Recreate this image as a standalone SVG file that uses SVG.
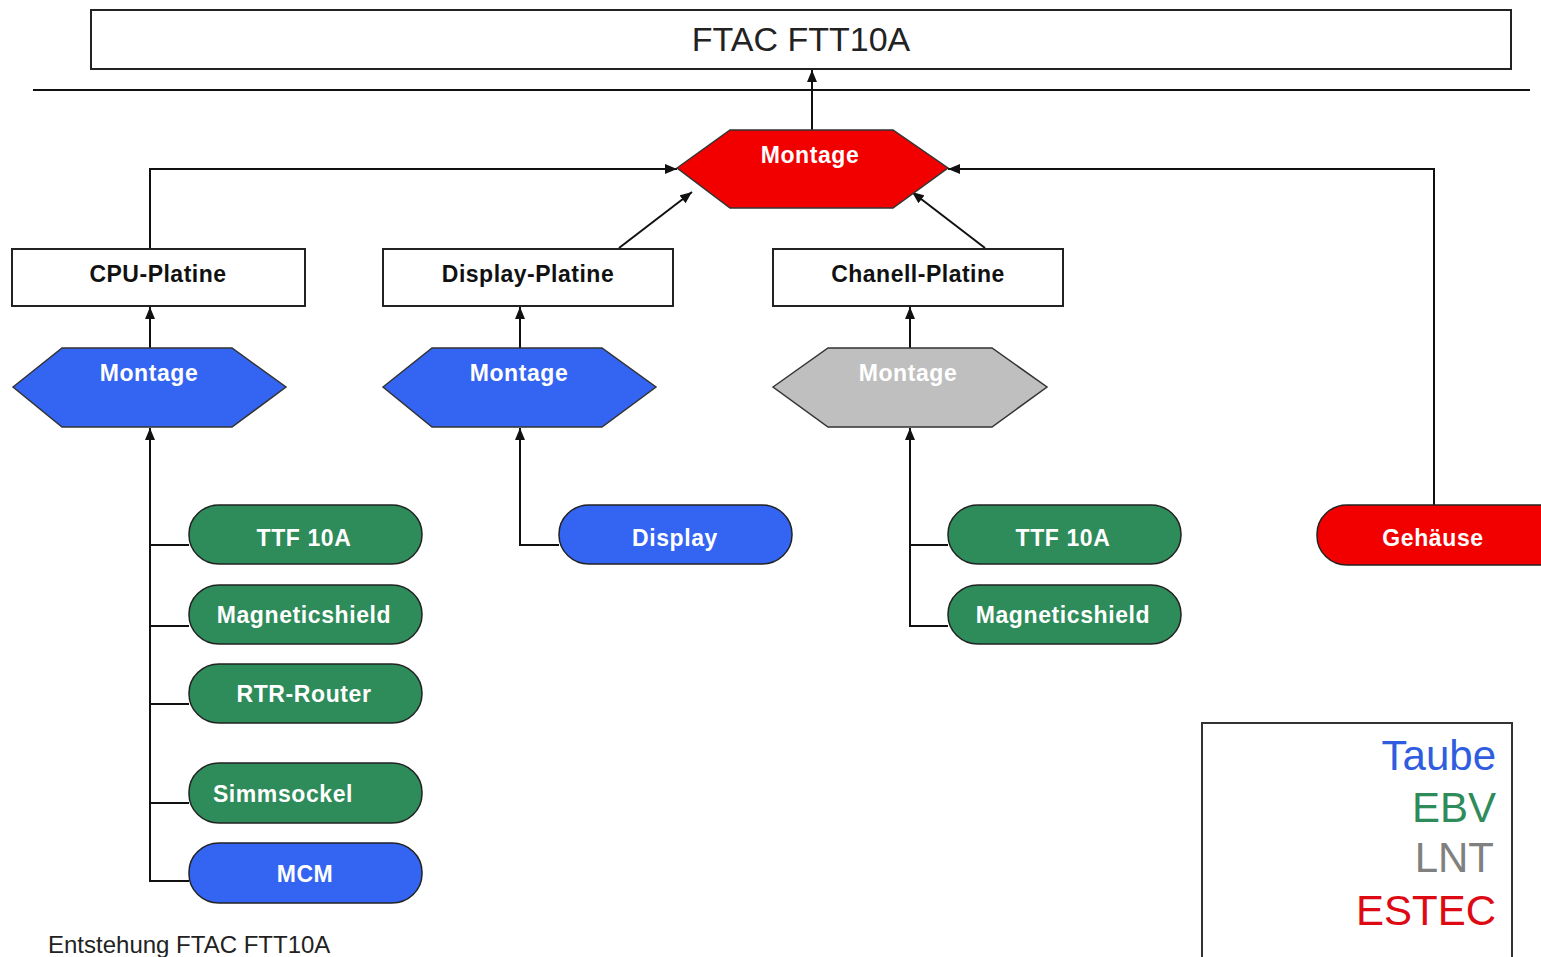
<svg xmlns="http://www.w3.org/2000/svg" width="1541" height="957" viewBox="0 0 1541 957">
<defs>
<marker id="arr" markerWidth="12" markerHeight="10" refX="12" refY="5" orient="auto" markerUnits="userSpaceOnUse">
<path d="M0,0 L12,5 L0,10 z" fill="#111"/>
</marker>
<style>
.ln{stroke:#111;stroke-width:2;fill:none}
.box{fill:#fff;stroke:#222;stroke-width:2}
.hex{stroke:#333;stroke-width:1.5}
.pill{stroke:#222;stroke-width:1.5}
.red{fill:#f20000}
.blue{fill:#3464f2}
.green{fill:#2e8b5a}
.gray{fill:#bfbfbf}
.lbl{font-family:"Liberation Sans",Arial,sans-serif;font-weight:bold;font-size:23px;fill:#fff;text-anchor:middle;letter-spacing:0.6px}
.blbl{font-family:"Liberation Sans",Arial,sans-serif;font-weight:bold;font-size:23px;fill:#111;text-anchor:middle;letter-spacing:0.5px}
.leg{font-family:"Liberation Sans",Arial,sans-serif;font-size:42px;text-anchor:end}
</style>
</defs>
<rect width="1541" height="957" fill="#fff"/>

<g id="connectors">
<line class="ln" x1="33" y1="90" x2="1530" y2="90"/>
<line class="ln" x1="812" y1="130" x2="812" y2="70" marker-end="url(#arr)"/>
<polyline class="ln" points="150,249 150,169 677,169" marker-end="url(#arr)"/>
<polyline class="ln" points="1434,505 1434,169 948,169" marker-end="url(#arr)"/>
<line class="ln" x1="619" y1="248" x2="692" y2="192" marker-end="url(#arr)"/>
<line class="ln" x1="985" y1="248" x2="912" y2="192" marker-end="url(#arr)"/>
<line class="ln" x1="150" y1="348" x2="150" y2="307" marker-end="url(#arr)"/>
<line class="ln" x1="520" y1="348" x2="520" y2="307" marker-end="url(#arr)"/>
<line class="ln" x1="910" y1="348" x2="910" y2="307" marker-end="url(#arr)"/>
<line class="ln" x1="150" y1="881" x2="150" y2="428" marker-end="url(#arr)"/>
<line class="ln" x1="149" y1="545" x2="189" y2="545"/>
<line class="ln" x1="149" y1="626" x2="189" y2="626"/>
<line class="ln" x1="149" y1="704" x2="189" y2="704"/>
<line class="ln" x1="149" y1="803" x2="189" y2="803"/>
<line class="ln" x1="149" y1="881" x2="189" y2="881"/>
<polyline class="ln" points="559,545 520,545 520,428" marker-end="url(#arr)"/>
<line class="ln" x1="910" y1="626" x2="910" y2="428" marker-end="url(#arr)"/>
<line class="ln" x1="909" y1="545" x2="948" y2="545"/>
<line class="ln" x1="909" y1="626" x2="948" y2="626"/>
</g>

<g id="title">
<rect class="box" x="91" y="10" width="1420" height="59"/>
<text x="801" y="51" font-family="Liberation Sans,Arial,sans-serif" font-size="34" fill="#222" text-anchor="middle">FTAC FTT10A</text>
</g>

<g id="montage-main">
<polygon class="hex red" points="677,168 730,130 893,130 948,168 893,208 730,208"/>
<text class="lbl" x="810" y="163">Montage</text>
</g>

<g id="cpu-platine">
<rect class="box" x="12" y="249" width="293" height="57"/>
<text class="blbl" x="158" y="282">CPU-Platine</text>
</g>
<g id="display-platine">
<rect class="box" x="383" y="249" width="290" height="57"/>
<text class="blbl" x="528" y="282">Display-Platine</text>
</g>
<g id="chanell-platine">
<rect class="box" x="773" y="249" width="290" height="57"/>
<text class="blbl" x="918" y="282">Chanell-Platine</text>
</g>

<g id="montage-cpu">
<polygon class="hex blue" points="13,387 62,348 232,348 286,387 232,427 62,427"/>
<text class="lbl" x="149" y="381">Montage</text>
</g>
<g id="montage-display">
<polygon class="hex blue" points="383,387 432,348 602,348 656,387 602,427 432,427"/>
<text class="lbl" x="519" y="381">Montage</text>
</g>
<g id="montage-chanell">
<polygon class="hex gray" points="773,387 828,348 992,348 1047,387 992,427 828,427"/>
<text class="lbl" x="908" y="381">Montage</text>
</g>

<g id="cpu-ttf10a">
<rect class="pill green" x="189" y="505" width="233" height="59" rx="30" ry="29"/>
<text class="lbl" x="304" y="546">TTF 10A</text>
</g>
<g id="cpu-magneticshield">
<rect class="pill green" x="189" y="585" width="233" height="59" rx="30" ry="29"/>
<text class="lbl" x="304" y="623">Magneticshield</text>
</g>
<g id="cpu-rtr-router">
<rect class="pill green" x="189" y="664" width="233" height="59" rx="30" ry="29"/>
<text class="lbl" x="304" y="702">RTR-Router</text>
</g>
<g id="cpu-simmsockel">
<rect class="pill green" x="189" y="763" width="233" height="60" rx="30" ry="29"/>
<text class="lbl" x="283" y="802">Simmsockel</text>
</g>
<g id="cpu-mcm">
<rect class="pill blue" x="189" y="843" width="233" height="60" rx="30" ry="29"/>
<text class="lbl" x="305" y="882">MCM</text>
</g>

<g id="display">
<rect class="pill blue" x="559" y="505" width="233" height="59" rx="30" ry="29"/>
<text class="lbl" x="675" y="546">Display</text>
</g>

<g id="chanell-ttf10a">
<rect class="pill green" x="948" y="505" width="233" height="59" rx="30" ry="29"/>
<text class="lbl" x="1063" y="546">TTF 10A</text>
</g>
<g id="chanell-magneticshield">
<rect class="pill green" x="948" y="585" width="233" height="59" rx="30" ry="29"/>
<text class="lbl" x="1063" y="623">Magneticshield</text>
</g>

<g id="gehaeuse">
<rect class="pill red" x="1317" y="505" width="260" height="60" rx="30" ry="29"/>
<text class="lbl" x="1433" y="546">Gehäuse</text>
</g>

<g id="legend">
<rect x="1202" y="723" width="310" height="260" fill="#fff" stroke="#333" stroke-width="2"/>
<text class="leg" x="1496" y="770" fill="#2f5de0">Taube</text>
<text class="leg" x="1496" y="822" fill="#2e8b5a">EBV</text>
<text class="leg" x="1494" y="872" fill="#808080">LNT</text>
<text class="leg" x="1496" y="925" fill="#dd0a14">ESTEC</text>
</g>

<g id="caption">
<text x="48" y="953" font-family="Liberation Sans,Arial,sans-serif" font-size="24" fill="#222">Entstehung FTAC FTT10A</text>
</g>
</svg>
